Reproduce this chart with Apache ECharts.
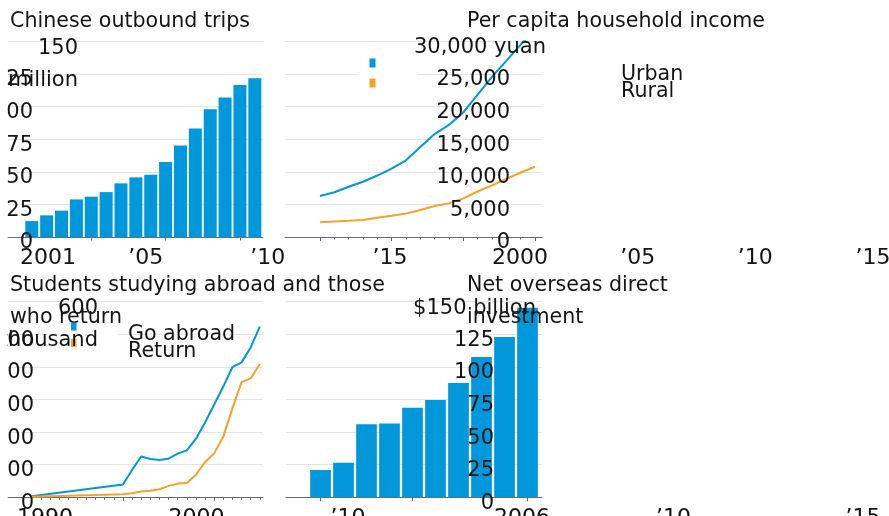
<!DOCTYPE html>
<html><head><meta charset="utf-8">
<script src="https://cdn.jsdelivr.net/npm/echarts@6/dist/echarts.min.js"></script>
<style>html,body{margin:0;padding:0;background:#fff}#c{width:889px;height:516px}</style>
</head><body><div id="c"></div>
<script>
// ---------- data ----------
const tripYears = [2001,2002,2003,2004,2005,2006,2007,2008,2009,2010,2011,2012,2013,2014,2015,2016];
const tripValues = [12.2,16.6,20.2,28.8,30.9,34.4,41.1,45.7,47.7,57.4,70.2,83.2,98.0,106.9,116.6,121.7];
const tripMajorTicks = [2005,2010,2015];
const tripLabelYears = [2001,2005,2010,2015];
const tripLabels = ['2001','\u201905','\u201910','\u201915'];

const incomeYears = [2000,2001,2002,2003,2004,2005,2006,2007,2008,2009,2010,2011,2012,2013,2014,2015];
const urbanIncome = [6280,6860,7703,8472,9422,10493,11759,13786,15781,17175,19109,21810,24565,27000,29500,31800];
const ruralIncome = [2253,2366,2476,2622,2936,3255,3587,4140,4761,5153,5919,6977,7917,8896,9892,10772];
const incomeMajorTicks = [2000,2005,2010,2015];
const incomeLabelYears = [2000,2005,2010,2015];
const incomeLabels = ['2000','\u201905','\u201910','\u201915'];

const studentYears = [1990,2000,2001,2002,2003,2004,2005,2006,2007,2008,2009,2010,2011,2012,2013,2014,2015];
const goAbroad = [2.95,39.0,84.0,125.2,117.3,114.7,118.5,134.0,144.0,179.8,229.3,284.7,339.7,399.6,413.9,459.8,523.7];
const returnees = [1.6,9.1,12.2,17.9,20.2,24.7,35.0,42.0,44.0,69.3,108.3,134.8,186.2,272.9,353.5,364.8,409.1];
const studentMinorTicks = [1990,1991,1992,1993,1994,1995,1996,1997,1998,1999,2000,2001,2002,2003,2004,2005,2006,2007,2008,2009,2010,2011,2012,2013,2014,2015];
const studentMajorTicks = [1990,2000,2010];
const studentLabelYears = [1990,2000,2010];
const studentLabels = ['1990','2000','\u201910'];

const odiYears = [2006,2007,2008,2009,2010,2011,2012,2013,2014,2015];
const odiValues = [20.9,26.5,56.0,56.5,68.7,74.6,87.6,107.6,122.9,145.4];
const odiMajorTicks = [2006,2010,2015];
const odiLabelYears = [2006,2010,2015];
const odiLabels = ['2006','\u201910','\u201915'];

// ---------- style ----------
const FF = 'DejaVu Sans';
const INK = '#141414', GRIDC = '#e4e4e4', AXISC = '#6b6b6b';
const BLUE = '#0097db', ORANGE = '#f5a328';
const FS = 21, XFS = 22, TFS = 20.6;

const chart = echarts.init(document.getElementById('c'));

function mainX(grid, min, max, ticks, len, showLine) {
  return { type:'value', gridIndex:grid, min:min, max:max, position:'bottom', offset:0,
    axisLine:{show:showLine, onZero:false, lineStyle:{color:AXISC, width:1}},
    axisTick:{show:true, customValues:ticks, length:len, lineStyle:{color:AXISC}},
    axisLabel:{show:false}, splitLine:{show:false} };
}
function labelX(grid, min, max, years, labels) {
  return { type:'value', gridIndex:grid, min:min, max:max, position:'bottom',
    axisLine:{show:false}, axisTick:{show:false}, splitLine:{show:false},
    axisLabel:{show:true, customValues:years, margin:10, fontFamily:FF, fontSize:XFS, color:INK, lineHeight:22,
      formatter: v => labels[years.indexOf(v)] } };
}
function gridY(grid, max, step) {
  return { type:'value', gridIndex:grid, min:0, max:max, interval:step, position:'left',
    axisLine:{show:false}, axisTick:{show:false}, axisLabel:{show:false},
    splitLine:{show:true, lineStyle:{color:GRIDC, width:1}}, z:0 };
}
function labelY(grid, max, step, fmt) {
  return { type:'value', gridIndex:grid, min:0, max:max, interval:step, position:'left', offset:0, z:20,
    axisLine:{show:false}, axisTick:{show:false}, splitLine:{show:false},
    axisLabel:{show:true, margin:0, fontFamily:FF, fontSize:FS, color:INK,
      formatter: v => v === max ? '' : fmt(v) } };
}
function hiddenY(grid) {
  return { type:'value', gridIndex:grid, min:0, max:1, show:false };
}
function hiddenX(grid) {
  return { type:'value', gridIndex:grid, min:0, max:1, show:false };
}
const num = v => String(v);
const thou = v => v.toLocaleString('en-US');

function txt(x, y, text, align, vAlign, lh, size) {
  return { type:'text', x:x, y:y, z:100, silent:true,
    style:{ text:text, fill:INK, font: (size||FS) + 'px "' + FF + '"',
      align:align, textAlign:align, verticalAlign:vAlign, textVerticalAlign:vAlign, lineHeight:lh||FS } };
}
function box(x, y, w, h, color, z) {
  return { type:'rect', z:z, silent:true, shape:{x:x, y:y, width:w, height:h}, style:{fill:color} };
}

const LSHIFT = 6; // tick labels sit slightly below their grid lines
const grids = [
  {left:8, top:41.3, width:255, height:195.7},     // 0 trips plot
  {left:285, top:41.3, width:257, height:195.7},   // 1 income plot
  {left:8, top:301.7, width:255, height:195.6},    // 2 students plot
  {left:286, top:301.7, width:256, height:195.6},  // 3 ODI plot
  {left:48, top:41.3, width:342, height:195.7},    // 4 trips year labels
  {left:520, top:41.3, width:353, height:195.7},   // 5 income year labels
  {left:45, top:301.7, width:303, height:195.6},   // 6 students year labels
  {left:522, top:301.7, width:341, height:195.6},  // 7 ODI year labels
  {left:33, top:41.3+LSHIFT, width:1, height:195.7},   // 8 trips value labels
  {left:510, top:41.3+LSHIFT, width:1, height:195.7},  // 9 income value labels
  {left:34, top:301.7+LSHIFT, width:1, height:195.6},  // 10 students value labels
  {left:494, top:301.7+LSHIFT, width:1, height:195.6}  // 11 ODI value labels
].map(g => Object.assign(g, {outerBoundsMode:'none', containLabel:false}));

const option = {
  animation:false,
  backgroundColor:'#fff',
  title:[
    {text:'Chinese outbound trips', left:10, top:6},
    {text:'Per capita household income', left:467, top:6},
    {text:'Students studying abroad and those\nwho return', left:10, top:270},
    {text:'Net overseas direct\ninvestment', left:467, top:270}
  ].map(t => Object.assign(t, {padding:0, z:50,
      textStyle:{fontFamily:FF, fontSize:TFS, fontWeight:'normal', color:INK, lineHeight:32}})),
  grid: grids,
  xAxis:[
    mainX(0, 1999.4, 2016.55, tripMajorTicks, 3.5, true),      // 0
    mainX(1, 1997.56, 2015.49, incomeYears, 2.5, true),        // 1
    mainX(1, 1997.56, 2015.49, incomeMajorTicks, 4, false),    // 2
    mainX(2, 1987.4, 2015.35, studentMinorTicks, 2.5, true),   // 3
    mainX(2, 1987.4, 2015.35, studentMajorTicks, 4, false),    // 4
    mainX(3, 2004.5, 2015.63, odiMajorTicks, 4, true),         // 5
    labelX(4, 2001, 2015, tripLabelYears, tripLabels),         // 6
    labelX(5, 2000, 2015, incomeLabelYears, incomeLabels),     // 7
    labelX(6, 1990, 2010, studentLabelYears, studentLabels),   // 8
    labelX(7, 2006, 2015, odiLabelYears, odiLabels),           // 9
    hiddenX(8), hiddenX(9), hiddenX(10), hiddenX(11)
  ],
  yAxis:[
    gridY(0, 150, 25), gridY(1, 30000, 5000), gridY(2, 600, 100), gridY(3, 150, 25),
    hiddenY(4), hiddenY(5), hiddenY(6), hiddenY(7),
    labelY(8, 150, 25, num),
    labelY(9, 30000, 5000, thou),
    labelY(10, 600, 100, num),
    labelY(11, 150, 25, num)
  ],
  series:[
    {type:'bar', xAxisIndex:0, yAxisIndex:0, barWidth:13, itemStyle:{color:BLUE}, z:5,
     data: tripYears.map((y,i) => [y, tripValues[i]])},
    {type:'line', name:'Urban', xAxisIndex:1, yAxisIndex:1, showSymbol:false, z:5,
     lineStyle:{color:BLUE, width:2}, itemStyle:{color:BLUE},
     data: incomeYears.map((y,i) => [y, urbanIncome[i]])},
    {type:'line', name:'Rural', xAxisIndex:1, yAxisIndex:1, showSymbol:false, z:5,
     lineStyle:{color:ORANGE, width:2}, itemStyle:{color:ORANGE},
     data: incomeYears.map((y,i) => [y, ruralIncome[i]])},
    {type:'line', name:'Go abroad', xAxisIndex:3, yAxisIndex:2, showSymbol:false, z:5,
     lineStyle:{color:BLUE, width:2}, itemStyle:{color:BLUE},
     data: studentYears.map((y,i) => [y, goAbroad[i]])},
    {type:'line', name:'Return', xAxisIndex:3, yAxisIndex:2, showSymbol:false, z:5,
     lineStyle:{color:ORANGE, width:2}, itemStyle:{color:ORANGE},
     data: studentYears.map((y,i) => [y, returnees[i]])},
    {type:'bar', xAxisIndex:5, yAxisIndex:3, barWidth:20.7, itemStyle:{color:BLUE}, z:5,
     data: odiYears.map((y,i) => [y, odiValues[i]])}
  ],
  graphic:{elements:[
    // unit labels on the top ticks
    txt(78, 33, '150\nmillion', 'right', 'top', 32),
    txt(546, 32, '30,000 yuan', 'right', 'top', 32),
    txt(98, 293, '600\nthousand', 'right', 'top', 32),
    txt(536, 293, '$150 billion', 'right', 'top', 32),
    // legends
    box(358, 50, 59, 46, '#fff', 1),
    box(369.5, 58.5, 6, 9, BLUE, 60),
    box(369.5, 78.5, 6, 9, ORANGE, 60),
    txt(621, 75, 'Urban', 'left', 'middle', 21, TFS),
    txt(621, 92, 'Rural', 'left', 'middle', 21, TFS),
    box(60, 312, 58, 45, '#fff', 1),
    box(71, 322.5, 5.5, 8, BLUE, 60),
    box(71, 339, 5.5, 8, ORANGE, 60),
    txt(128, 335, 'Go abroad', 'left', 'middle', 21, TFS),
    txt(128, 352, 'Return', 'left', 'middle', 21, TFS),
    // left edge of the chart area clips the overhanging value labels
    box(0, 34, 7.3, 482, '#fff', 200)
  ]}
};
chart.setOption(option);
</script></body></html>
